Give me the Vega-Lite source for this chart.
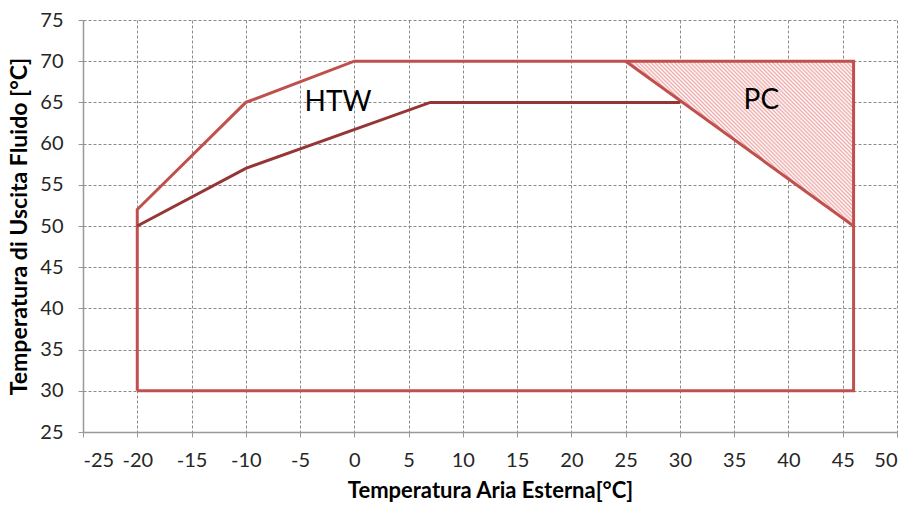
{
  "$schema": "https://vega.github.io/schema/vega-lite/v6.json",
  "width": 814,
  "height": 412,
  "autosize": "none",
  "padding": {"left": 83, "top": 20, "right": 14, "bottom": 73},
  "background": "white",
  "config": {
    "view": {"stroke": null},
    "font": "Lato",
    "axis": {
      "labelFont": "Lato",
      "labelFontSize": 20,
      "labelColor": "#262626",
      "titleFont": "Lato",
      "titleFontWeight": "bold",
      "titleColor": "#000000",
      "domainColor": "#999999",
      "domainWidth": 1.5,
      "tickColor": "#999999",
      "tickSize": 5,
      "gridColor": "#8a8a8a",
      "gridDash": [3, 2],
      "gridWidth": 1
    }
  },
  "datasets": {
    "outer": [
      {"o": 1, "x": -20, "y": 30},
      {"o": 2, "x": -20, "y": 52},
      {"o": 3, "x": -10, "y": 65},
      {"o": 4, "x": 0, "y": 70},
      {"o": 5, "x": 46, "y": 70},
      {"o": 6, "x": 46, "y": 30},
      {"o": 7, "x": -20, "y": 30}
    ],
    "inner": [
      {"o": 1, "x": -20, "y": 50},
      {"o": 2, "x": -10, "y": 57},
      {"o": 3, "x": 7, "y": 65},
      {"o": 4, "x": 30, "y": 65}
    ],
    "diag": [
      {"o": 1, "x": 25, "y": 70},
      {"o": 2, "x": 46, "y": 50}
    ],
    "pc": [
      {"x": 25, "top": 70, "bottom": 70},
      {"x": 46, "top": 70, "bottom": 50}
    ],
    "labels": [
      {"x": -1.5, "y": 64.9, "t": "HTW"},
      {"x": 37.5, "y": 65.2, "t": "PC"}
    ]
  },
  "layer": [
    {
      "data": {"name": "pc"},
      "mark": {
        "type": "area",
        "opacity": 1,
        "color": {
          "gradient": "linear",
          "x1": 0, "y1": 1, "x2": 1.1317, "y2": 0.1823,
          "stops": [
            {"offset": 0, "color": "#eeaaaa"}, {"offset": 0.005, "color": "#ffffff"},
            {"offset": 0.01, "color": "#eeaaaa"}, {"offset": 0.015, "color": "#ffffff"},
            {"offset": 0.02, "color": "#eeaaaa"}, {"offset": 0.025, "color": "#ffffff"},
            {"offset": 0.03, "color": "#eeaaaa"}, {"offset": 0.035, "color": "#ffffff"},
            {"offset": 0.04, "color": "#eeaaaa"}, {"offset": 0.045, "color": "#ffffff"},
            {"offset": 0.05, "color": "#eeaaaa"}, {"offset": 0.055, "color": "#ffffff"},
            {"offset": 0.06, "color": "#eeaaaa"}, {"offset": 0.065, "color": "#ffffff"},
            {"offset": 0.07, "color": "#eeaaaa"}, {"offset": 0.075, "color": "#ffffff"},
            {"offset": 0.08, "color": "#eeaaaa"}, {"offset": 0.085, "color": "#ffffff"},
            {"offset": 0.09, "color": "#eeaaaa"}, {"offset": 0.095, "color": "#ffffff"},
            {"offset": 0.1, "color": "#eeaaaa"}, {"offset": 0.105, "color": "#ffffff"},
            {"offset": 0.11, "color": "#eeaaaa"}, {"offset": 0.115, "color": "#ffffff"},
            {"offset": 0.12, "color": "#eeaaaa"}, {"offset": 0.125, "color": "#ffffff"},
            {"offset": 0.13, "color": "#eeaaaa"}, {"offset": 0.135, "color": "#ffffff"},
            {"offset": 0.14, "color": "#eeaaaa"}, {"offset": 0.145, "color": "#ffffff"},
            {"offset": 0.15, "color": "#eeaaaa"}, {"offset": 0.155, "color": "#ffffff"},
            {"offset": 0.16, "color": "#eeaaaa"}, {"offset": 0.165, "color": "#ffffff"},
            {"offset": 0.17, "color": "#eeaaaa"}, {"offset": 0.175, "color": "#ffffff"},
            {"offset": 0.18, "color": "#eeaaaa"}, {"offset": 0.185, "color": "#ffffff"},
            {"offset": 0.19, "color": "#eeaaaa"}, {"offset": 0.195, "color": "#ffffff"},
            {"offset": 0.2, "color": "#eeaaaa"}, {"offset": 0.205, "color": "#ffffff"},
            {"offset": 0.21, "color": "#eeaaaa"}, {"offset": 0.215, "color": "#ffffff"},
            {"offset": 0.22, "color": "#eeaaaa"}, {"offset": 0.225, "color": "#ffffff"},
            {"offset": 0.23, "color": "#eeaaaa"}, {"offset": 0.235, "color": "#ffffff"},
            {"offset": 0.24, "color": "#eeaaaa"}, {"offset": 0.245, "color": "#ffffff"},
            {"offset": 0.25, "color": "#eeaaaa"}, {"offset": 0.255, "color": "#ffffff"},
            {"offset": 0.26, "color": "#eeaaaa"}, {"offset": 0.265, "color": "#ffffff"},
            {"offset": 0.27, "color": "#eeaaaa"}, {"offset": 0.275, "color": "#ffffff"},
            {"offset": 0.28, "color": "#eeaaaa"}, {"offset": 0.285, "color": "#ffffff"},
            {"offset": 0.29, "color": "#eeaaaa"}, {"offset": 0.295, "color": "#ffffff"},
            {"offset": 0.3, "color": "#eeaaaa"}, {"offset": 0.305, "color": "#ffffff"},
            {"offset": 0.31, "color": "#eeaaaa"}, {"offset": 0.315, "color": "#ffffff"},
            {"offset": 0.32, "color": "#eeaaaa"}, {"offset": 0.325, "color": "#ffffff"},
            {"offset": 0.33, "color": "#eeaaaa"}, {"offset": 0.335, "color": "#ffffff"},
            {"offset": 0.34, "color": "#eeaaaa"}, {"offset": 0.345, "color": "#ffffff"},
            {"offset": 0.35, "color": "#eeaaaa"}, {"offset": 0.355, "color": "#ffffff"},
            {"offset": 0.36, "color": "#eeaaaa"}, {"offset": 0.365, "color": "#ffffff"},
            {"offset": 0.37, "color": "#eeaaaa"}, {"offset": 0.375, "color": "#ffffff"},
            {"offset": 0.38, "color": "#eeaaaa"}, {"offset": 0.385, "color": "#ffffff"},
            {"offset": 0.39, "color": "#eeaaaa"}, {"offset": 0.395, "color": "#ffffff"},
            {"offset": 0.4, "color": "#eeaaaa"}, {"offset": 0.405, "color": "#ffffff"},
            {"offset": 0.41, "color": "#eeaaaa"}, {"offset": 0.415, "color": "#ffffff"},
            {"offset": 0.42, "color": "#eeaaaa"}, {"offset": 0.425, "color": "#ffffff"},
            {"offset": 0.43, "color": "#eeaaaa"}, {"offset": 0.435, "color": "#ffffff"},
            {"offset": 0.44, "color": "#eeaaaa"}, {"offset": 0.445, "color": "#ffffff"},
            {"offset": 0.45, "color": "#eeaaaa"}, {"offset": 0.455, "color": "#ffffff"},
            {"offset": 0.46, "color": "#eeaaaa"}, {"offset": 0.465, "color": "#ffffff"},
            {"offset": 0.47, "color": "#eeaaaa"}, {"offset": 0.475, "color": "#ffffff"},
            {"offset": 0.48, "color": "#eeaaaa"}, {"offset": 0.485, "color": "#ffffff"},
            {"offset": 0.49, "color": "#eeaaaa"}, {"offset": 0.495, "color": "#ffffff"},
            {"offset": 0.5, "color": "#eeaaaa"}, {"offset": 0.505, "color": "#ffffff"},
            {"offset": 0.51, "color": "#eeaaaa"}, {"offset": 0.515, "color": "#ffffff"},
            {"offset": 0.52, "color": "#eeaaaa"}, {"offset": 0.525, "color": "#ffffff"},
            {"offset": 0.53, "color": "#eeaaaa"}, {"offset": 0.535, "color": "#ffffff"},
            {"offset": 0.54, "color": "#eeaaaa"}, {"offset": 0.545, "color": "#ffffff"},
            {"offset": 0.55, "color": "#eeaaaa"}, {"offset": 0.555, "color": "#ffffff"},
            {"offset": 0.56, "color": "#eeaaaa"}, {"offset": 0.565, "color": "#ffffff"},
            {"offset": 0.57, "color": "#eeaaaa"}, {"offset": 0.575, "color": "#ffffff"},
            {"offset": 0.58, "color": "#eeaaaa"}, {"offset": 0.585, "color": "#ffffff"},
            {"offset": 0.59, "color": "#eeaaaa"}, {"offset": 0.595, "color": "#ffffff"},
            {"offset": 0.6, "color": "#eeaaaa"}, {"offset": 0.605, "color": "#ffffff"},
            {"offset": 0.61, "color": "#eeaaaa"}, {"offset": 0.615, "color": "#ffffff"},
            {"offset": 0.62, "color": "#eeaaaa"}, {"offset": 0.625, "color": "#ffffff"},
            {"offset": 0.63, "color": "#eeaaaa"}, {"offset": 0.635, "color": "#ffffff"},
            {"offset": 0.64, "color": "#eeaaaa"}, {"offset": 0.645, "color": "#ffffff"},
            {"offset": 0.65, "color": "#eeaaaa"}, {"offset": 0.655, "color": "#ffffff"},
            {"offset": 0.66, "color": "#eeaaaa"}, {"offset": 0.665, "color": "#ffffff"},
            {"offset": 0.67, "color": "#eeaaaa"}, {"offset": 0.675, "color": "#ffffff"},
            {"offset": 0.68, "color": "#eeaaaa"}, {"offset": 0.685, "color": "#ffffff"},
            {"offset": 0.69, "color": "#eeaaaa"}, {"offset": 0.695, "color": "#ffffff"},
            {"offset": 0.7, "color": "#eeaaaa"}, {"offset": 0.705, "color": "#ffffff"},
            {"offset": 0.71, "color": "#eeaaaa"}, {"offset": 0.715, "color": "#ffffff"},
            {"offset": 0.72, "color": "#eeaaaa"}, {"offset": 0.725, "color": "#ffffff"},
            {"offset": 0.73, "color": "#eeaaaa"}, {"offset": 0.735, "color": "#ffffff"},
            {"offset": 0.74, "color": "#eeaaaa"}, {"offset": 0.745, "color": "#ffffff"},
            {"offset": 0.75, "color": "#eeaaaa"}, {"offset": 0.755, "color": "#ffffff"},
            {"offset": 0.76, "color": "#eeaaaa"}, {"offset": 0.765, "color": "#ffffff"},
            {"offset": 0.77, "color": "#eeaaaa"}, {"offset": 0.775, "color": "#ffffff"},
            {"offset": 0.78, "color": "#eeaaaa"}, {"offset": 0.785, "color": "#ffffff"},
            {"offset": 0.79, "color": "#eeaaaa"}, {"offset": 0.795, "color": "#ffffff"},
            {"offset": 0.8, "color": "#eeaaaa"}, {"offset": 0.805, "color": "#ffffff"},
            {"offset": 0.81, "color": "#eeaaaa"}, {"offset": 0.815, "color": "#ffffff"},
            {"offset": 0.82, "color": "#eeaaaa"}, {"offset": 0.825, "color": "#ffffff"},
            {"offset": 0.83, "color": "#eeaaaa"}, {"offset": 0.835, "color": "#ffffff"},
            {"offset": 0.84, "color": "#eeaaaa"}, {"offset": 0.845, "color": "#ffffff"},
            {"offset": 0.85, "color": "#eeaaaa"}, {"offset": 0.855, "color": "#ffffff"},
            {"offset": 0.86, "color": "#eeaaaa"}, {"offset": 0.865, "color": "#ffffff"},
            {"offset": 0.87, "color": "#eeaaaa"}, {"offset": 0.875, "color": "#ffffff"},
            {"offset": 0.88, "color": "#eeaaaa"}, {"offset": 0.885, "color": "#ffffff"},
            {"offset": 0.89, "color": "#eeaaaa"}, {"offset": 0.895, "color": "#ffffff"},
            {"offset": 0.9, "color": "#eeaaaa"}, {"offset": 0.905, "color": "#ffffff"},
            {"offset": 0.91, "color": "#eeaaaa"}, {"offset": 0.915, "color": "#ffffff"},
            {"offset": 0.92, "color": "#eeaaaa"}, {"offset": 0.925, "color": "#ffffff"},
            {"offset": 0.93, "color": "#eeaaaa"}, {"offset": 0.935, "color": "#ffffff"},
            {"offset": 0.94, "color": "#eeaaaa"}, {"offset": 0.945, "color": "#ffffff"},
            {"offset": 0.95, "color": "#eeaaaa"}, {"offset": 0.955, "color": "#ffffff"},
            {"offset": 0.96, "color": "#eeaaaa"}, {"offset": 0.965, "color": "#ffffff"},
            {"offset": 0.97, "color": "#eeaaaa"}, {"offset": 0.975, "color": "#ffffff"},
            {"offset": 0.98, "color": "#eeaaaa"}, {"offset": 0.985, "color": "#ffffff"},
            {"offset": 0.99, "color": "#eeaaaa"}, {"offset": 0.995, "color": "#ffffff"},
            {"offset": 1, "color": "#eeaaaa"}
          ]
        }
      },
      "encoding": {
        "x": {
          "field": "x", "type": "quantitative",
          "scale": {"domain": [-25, 50], "nice": false, "zero": false},
          "axis": {"values": [-25,-20,-15,-10,-5,0,5,10,15,20,25,30,35,40,45,50], "labelExpr": "'' + datum.value", "labelPadding": 13, "title": "Temperatura Aria Esterna[°C]", "titleFontSize": 22, "titlePadding": 10}
        },
        "y": {
          "field": "top", "type": "quantitative",
          "scale": {"domain": [25, 75], "nice": false, "zero": false},
          "axis": {"values": [25,30,35,40,45,50,55,60,65,70,75], "labelPadding": 15, "title": "Temperatura di Uscita Fluido [°C]", "titleFontSize": 23, "titlePadding": 8}
        },
        "y2": {"field": "bottom"}
      }
    },
    {
      "data": {"name": "outer"},
      "mark": {"type": "line", "color": "#c0504d", "strokeWidth": 3, "strokeJoin": "miter"},
      "encoding": {
        "x": {"field": "x", "type": "quantitative"},
        "y": {"field": "y", "type": "quantitative"},
        "order": {"field": "o"}
      }
    },
    {
      "data": {"name": "diag"},
      "mark": {"type": "line", "color": "#c0504d", "strokeWidth": 3},
      "encoding": {
        "x": {"field": "x", "type": "quantitative"},
        "y": {"field": "y", "type": "quantitative"},
        "order": {"field": "o"}
      }
    },
    {
      "data": {"name": "inner"},
      "mark": {"type": "line", "color": "#963634", "strokeWidth": 3, "strokeJoin": "miter"},
      "encoding": {
        "x": {"field": "x", "type": "quantitative"},
        "y": {"field": "y", "type": "quantitative"},
        "order": {"field": "o"}
      }
    },
    {
      "data": {"name": "labels"},
      "mark": {"type": "text", "font": "Lato", "fontSize": 28, "color": "#000000", "align": "center", "baseline": "middle"},
      "encoding": {
        "x": {"field": "x", "type": "quantitative"},
        "y": {"field": "y", "type": "quantitative"},
        "text": {"field": "t"}
      }
    }
  ]
}
